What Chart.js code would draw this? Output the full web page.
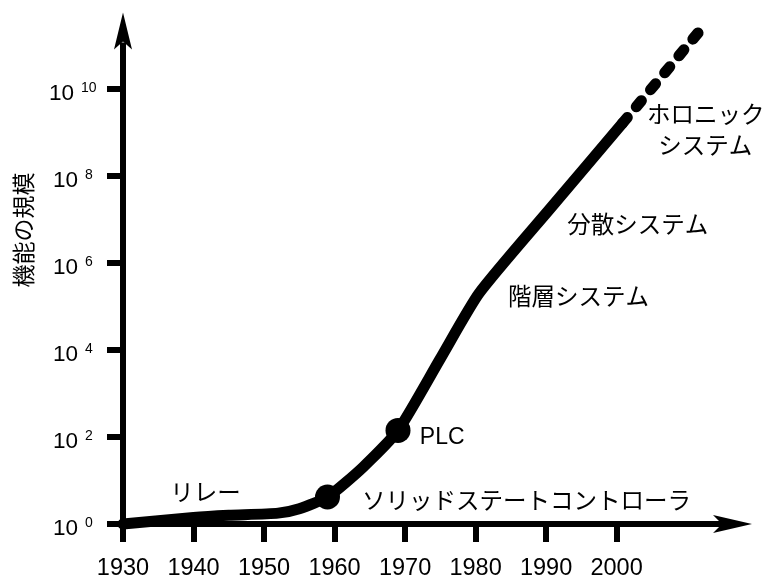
<!DOCTYPE html>
<html>
<head>
<meta charset="utf-8">
<script src="https://cdn.jsdelivr.net/npm/chart.js@4"></script>
<style>
  body { margin: 0; background: #fff; }
  #wrap { width: 766px; height: 577px; position: relative; }
</style>
</head>
<body>
<div id="wrap"><canvas id="chart"></canvas></div>
<script>
// curve: year and log10 of the scale
const curveYears = [1930, 1940, 1945, 1952, 1955, 1959, 1964, 1969, 1975, 1980.5, 1990.6, 2000.8, 2011.8];
const curveExps  = [0, 0.15, 0.2, 0.25, 0.35, 0.62, 1.3, 2.15, 3.8, 5.3, 7.25, 9.2, 11.33];
const dashFromYear = 2000.8; // after this the curve is dashed

// the two big dots
const markerYears = [1959, 1969];
const markerExps  = [0.62, 2.15];

// ticks
const xTickYears = [1930, 1940, 1950, 1960, 1970, 1980, 1990, 2000];
const yTickExps  = [0, 2, 4, 6, 8, 10];

// text labels on the plot
const noteTexts = ['リレー', 'ソリッドステートコントローラ', 'PLC', '階層システム', '分散システム', 'ホロニック', 'システム'];
const noteYears = [1936.7, 1963.9, 1972.1, 1984.6, 1993.0, 2004.3, 2005.9];
const noteExps  = [0.73, 0.55, 1.99, 5.23, 6.9, 9.42, 8.71];

const yTitle = '機能の規模';

const jpFont = '"Noto Sans CJK JP", "Noto Sans", sans-serif';
const latinFont = '"Liberation Sans", Arial, sans-serif';

// draws arrows, y labels with exponents, title and notes
const decorPlugin = {
  id: 'decor',
  afterDraw(chart) {
    const ctx = chart.ctx;
    const xs = chart.scales.x, ys = chart.scales.y;
    const area = chart.chartArea;
    const x0 = area.left, y0 = area.bottom;

    ctx.save();
    ctx.fillStyle = '#000';
    ctx.strokeStyle = '#000';
    ctx.lineWidth = 6;

    // y axis + arrow head
    ctx.beginPath();
    ctx.moveTo(x0, y0);
    ctx.lineTo(x0, area.top + 30);
    ctx.stroke();
    ctx.beginPath();
    ctx.moveTo(x0, area.top);
    ctx.lineTo(x0 + 9, area.top + 37);
    ctx.lineTo(x0, area.top + 29);
    ctx.lineTo(x0 - 9, area.top + 37);
    ctx.closePath();
    ctx.fill();

    // x axis + arrow head
    ctx.beginPath();
    ctx.moveTo(x0, y0);
    ctx.lineTo(area.right - 30, y0);
    ctx.stroke();
    ctx.beginPath();
    ctx.moveTo(area.right, y0);
    ctx.lineTo(area.right - 39, y0 - 9);
    ctx.lineTo(area.right - 30, y0);
    ctx.lineTo(area.right - 39, y0 + 9);
    ctx.closePath();
    ctx.fill();

    // y tick labels: 10 with raised exponent
    yTickExps.forEach(e => {
      const py = ys.getPixelForValue(Math.pow(10, e));
      const shift = String(e).length > 1 ? 4 : 0;
      ctx.font = '22.5px ' + latinFont;
      ctx.textAlign = 'right';
      ctx.textBaseline = 'middle';
      ctx.fillText('10', 78 - shift, py + 5);
      ctx.font = '14px ' + latinFont;
      ctx.textAlign = 'left';
      ctx.fillText(String(e), 85 - shift, py - 1);
    });

    // y title, rotated
    ctx.save();
    ctx.translate(23, 230);
    ctx.rotate(-Math.PI / 2);
    ctx.font = '23px ' + jpFont;
    ctx.textAlign = 'center';
    ctx.textBaseline = 'middle';
    ctx.fillText(yTitle, 0, 0);
    ctx.restore();

    // notes
    ctx.textAlign = 'left';
    ctx.textBaseline = 'middle';
    noteTexts.forEach((t, i) => {
      ctx.font = (t === 'PLC' ? '23px ' + latinFont : '23.5px ' + jpFont);
      ctx.fillText(t, xs.getPixelForValue(noteYears[i]), ys.getPixelForValue(Math.pow(10, noteExps[i])));
    });
    ctx.restore();
  }
};

const ctx = document.getElementById('chart').getContext('2d');
const chart = new Chart(ctx, {
  type: 'line',
  data: {
    datasets: [{
      data: curveYears.map((yr, i) => ({ x: yr, y: Math.pow(10, curveExps[i]) })),
      borderColor: '#000',
      borderWidth: 11,
      borderCapStyle: 'round',
      borderJoinStyle: 'round',
      pointRadius: 0,
      tension: 0.2,
      clip: false,
      segment: {
        borderDash: c => (c.p0.parsed.x >= dashFromYear ? [8, 14] : undefined)
      }
    }, {
      type: 'scatter',
      data: markerYears.map((yr, i) => ({ x: yr, y: Math.pow(10, markerExps[i]) })),
      backgroundColor: '#000',
      borderWidth: 0,
      pointRadius: 12.5,
      clip: false
    }]
  },
  options: {
    responsive: true,
    maintainAspectRatio: false,
    animation: false,
    layout: { padding: { top: 10, right: 14, left: 0, bottom: 0 } },
    plugins: { legend: { display: false }, tooltip: { enabled: false } },
    scales: {
      x: {
        type: 'linear',
        min: 1930,
        max: 2019.2,
        afterBuildTicks: s => { s.ticks = xTickYears.map(v => ({ value: v })); },
        afterFit: s => { s.height = 53; },
        border: { display: false },
        grid: { drawOnChartArea: false, drawTicks: true, tickLength: 18, lineWidth: 6, tickColor: '#000' },
        ticks: {
          color: '#000',
          padding: 12,
          maxRotation: 0,
          autoSkip: false,
          font: { family: latinFont, size: 23.5 },
          callback: v => String(v)
        }
      },
      y: {
        type: 'logarithmic',
        min: 1,
        max: Math.pow(10, 11.75),
        afterBuildTicks: s => { s.ticks = yTickExps.map(e => ({ value: Math.pow(10, e) })); },
        afterFit: s => { s.width = 123; },
        border: { display: false },
        grid: { drawOnChartArea: false, drawTicks: true, tickLength: 16, lineWidth: 6, tickColor: '#000' },
        ticks: { display: false }
      }
    }
  },
  plugins: [decorPlugin]
});
</script>
</body>
</html>
